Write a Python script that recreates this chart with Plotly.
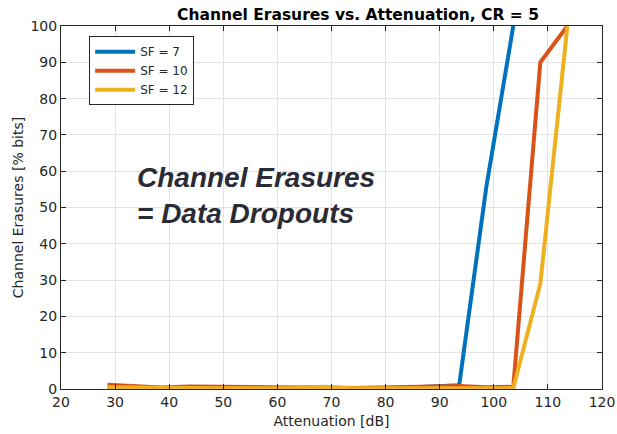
import plotly.graph_objects as go

attenuation = [28.6, 33.6, 38.6, 43.6, 48.6, 53.6, 58.6, 63.6, 68.6, 73.6, 78.6, 83.6, 88.6, 93.6, 98.6, 103.6, 108.6, 113.6]
sf7 = [0.0, 0.2, 0.3, 0.4, 0.4, 0.3, 0.3, 0.3, 0.4, 0.0, 0.0, 0.3, 0.5, 1.0, 55.5, 100.0]
sf10 = [1.2, 0.9, 0.4, 0.7, 0.7, 0.6, 0.5, 0.4, 0.5, 0.3, 0.5, 0.6, 0.7, 0.8, 0.5, 0.6, 90.0, 100.0]
sf12 = [0.5, 0.4, 0.2, 0.2, 0.2, 0.2, 0.2, 0.3, 0.6, 0.2, 0.2, 0.2, 0.2, 0.2, 0.2, 0.2, 29.0, 100.0]

series = [("SF = 7", sf7, "#0072BD"), ("SF = 10", sf10, "#D95319"), ("SF = 12", sf12, "#EDB120")]

x_ticks = [20, 30, 40, 50, 60, 70, 80, 90, 100, 110, 120]
y_ticks = [0, 10, 20, 30, 40, 50, 60, 70, 80, 90, 100]

fig = go.Figure()
for name, vals, col in series:
    fig.add_trace(go.Scatter(x=attenuation[:len(vals)], y=vals, mode="lines", name=name,
                             line=dict(color=col, width=4)))

axis_common = dict(showgrid=True, gridcolor="#e3e3e3", gridwidth=1, zeroline=False,
                   showline=True, linecolor="#262626", linewidth=1, mirror="ticks",
                   ticks="inside", ticklen=5, tickcolor="#262626", automargin=False,
                   tickfont=dict(family="DejaVu Sans", size=14, color="#262626"))

W, H = 617, 434
fig.update_layout(
    width=W, height=H,
    margin=dict(l=61, r=15, t=26, b=45),
    paper_bgcolor="white", plot_bgcolor="white",
    title=dict(text="<b>Channel Erasures vs. Attenuation, CR = 5</b>", x=0.549, xref="paper",
               xanchor="center", y=1 - 15 / H, yanchor="middle",
               font=dict(family="DejaVu Sans", size=15.5, color="black")),
    xaxis=dict(range=[20, 120], tickvals=x_ticks, **axis_common,
               title=dict(text="Attenuation [dB]", standoff=7,
                          font=dict(family="DejaVu Sans", size=14, color="#262626"))),
    yaxis=dict(range=[0, 100], tickvals=y_ticks, **axis_common,
               title=dict(text="Channel Erasures [% bits]", standoff=3,
                          font=dict(family="DejaVu Sans", size=14, color="#262626"))),
    legend=dict(x=0.052, y=0.972, xanchor="left", yanchor="top",
                bgcolor="white", bordercolor="#262626", borderwidth=1,
                font=dict(family="DejaVu Sans", size=12, color="#262626"),
                tracegroupgap=0, itemwidth=40),
    showlegend=True,
)

fig.add_annotation(x=0.137, y=0.534, xref="paper", yref="paper", xanchor="left", yanchor="middle",
                   text="<b><i>Channel Erasures<br>= Data Dropouts</i></b>", showarrow=False,
                   align="left",
                   font=dict(family="Liberation Sans", size=28, color="#2b2b36"))

# remove the default page margin so the figure fills the window exactly
fig.write_html("out.html", config={"displayModeBar": False},
               post_script="document.body.style.margin='0';document.body.style.overflow='hidden';")
